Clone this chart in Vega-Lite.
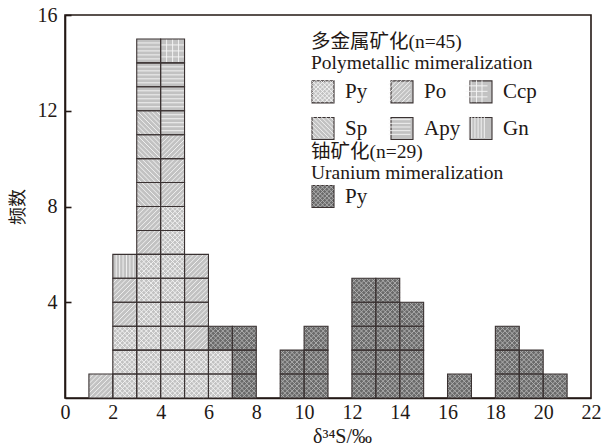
{
  "$schema": "https://vega.github.io/schema/vega-lite/v6.json",
  "width": 526,
  "height": 383,
  "autosize": "none",
  "padding": {"left": 65, "top": 15, "right": 15, "bottom": 50},
  "background": "white",
  "config": {
    "view": {"stroke": "#231815", "strokeWidth": 1.6},
    "axis": {"grid": false, "zindex": 1, "domainColor": "#231815", "domainWidth": 1.6, "labelColor": "#231815", "titleColor": "#231815", "labelFont": "Liberation Serif", "labelFontSize": 20, "titleFontWeight": "normal"}
  },
  "data": {"values": [
    {"bin_start":1,"bin_end":2,"lo":0,"hi":1,"ore":"poly","mineral":"Po"},
    {"bin_start":2,"bin_end":3,"lo":0,"hi":1,"ore":"poly","mineral":"Py"},
    {"bin_start":2,"bin_end":3,"lo":1,"hi":2,"ore":"poly","mineral":"Py"},
    {"bin_start":2,"bin_end":3,"lo":2,"hi":3,"ore":"poly","mineral":"Py"},
    {"bin_start":2,"bin_end":3,"lo":3,"hi":4,"ore":"poly","mineral":"Po"},
    {"bin_start":2,"bin_end":3,"lo":4,"hi":5,"ore":"poly","mineral":"Po"},
    {"bin_start":2,"bin_end":3,"lo":5,"hi":6,"ore":"poly","mineral":"Gn"},
    {"bin_start":3,"bin_end":4,"lo":0,"hi":1,"ore":"poly","mineral":"Py"},
    {"bin_start":3,"bin_end":4,"lo":1,"hi":2,"ore":"poly","mineral":"Py"},
    {"bin_start":3,"bin_end":4,"lo":2,"hi":3,"ore":"poly","mineral":"Py"},
    {"bin_start":3,"bin_end":4,"lo":3,"hi":4,"ore":"poly","mineral":"Py"},
    {"bin_start":3,"bin_end":4,"lo":4,"hi":5,"ore":"poly","mineral":"Py"},
    {"bin_start":3,"bin_end":4,"lo":5,"hi":6,"ore":"poly","mineral":"Py"},
    {"bin_start":3,"bin_end":4,"lo":6,"hi":7,"ore":"poly","mineral":"Po"},
    {"bin_start":3,"bin_end":4,"lo":7,"hi":8,"ore":"poly","mineral":"Po"},
    {"bin_start":3,"bin_end":4,"lo":8,"hi":9,"ore":"poly","mineral":"Sp"},
    {"bin_start":3,"bin_end":4,"lo":9,"hi":10,"ore":"poly","mineral":"Sp"},
    {"bin_start":3,"bin_end":4,"lo":10,"hi":11,"ore":"poly","mineral":"Sp"},
    {"bin_start":3,"bin_end":4,"lo":11,"hi":12,"ore":"poly","mineral":"Sp"},
    {"bin_start":3,"bin_end":4,"lo":12,"hi":13,"ore":"poly","mineral":"Apy"},
    {"bin_start":3,"bin_end":4,"lo":13,"hi":14,"ore":"poly","mineral":"Apy"},
    {"bin_start":3,"bin_end":4,"lo":14,"hi":15,"ore":"poly","mineral":"Apy"},
    {"bin_start":4,"bin_end":5,"lo":0,"hi":1,"ore":"poly","mineral":"Py"},
    {"bin_start":4,"bin_end":5,"lo":1,"hi":2,"ore":"poly","mineral":"Py"},
    {"bin_start":4,"bin_end":5,"lo":2,"hi":3,"ore":"poly","mineral":"Py"},
    {"bin_start":4,"bin_end":5,"lo":3,"hi":4,"ore":"poly","mineral":"Py"},
    {"bin_start":4,"bin_end":5,"lo":4,"hi":5,"ore":"poly","mineral":"Py"},
    {"bin_start":4,"bin_end":5,"lo":5,"hi":6,"ore":"poly","mineral":"Py"},
    {"bin_start":4,"bin_end":5,"lo":6,"hi":7,"ore":"poly","mineral":"Py"},
    {"bin_start":4,"bin_end":5,"lo":7,"hi":8,"ore":"poly","mineral":"Py"},
    {"bin_start":4,"bin_end":5,"lo":8,"hi":9,"ore":"poly","mineral":"Po"},
    {"bin_start":4,"bin_end":5,"lo":9,"hi":10,"ore":"poly","mineral":"Po"},
    {"bin_start":4,"bin_end":5,"lo":10,"hi":11,"ore":"poly","mineral":"Po"},
    {"bin_start":4,"bin_end":5,"lo":11,"hi":12,"ore":"poly","mineral":"Apy"},
    {"bin_start":4,"bin_end":5,"lo":12,"hi":13,"ore":"poly","mineral":"Apy"},
    {"bin_start":4,"bin_end":5,"lo":13,"hi":14,"ore":"poly","mineral":"Apy"},
    {"bin_start":4,"bin_end":5,"lo":14,"hi":15,"ore":"poly","mineral":"Ccp"},
    {"bin_start":5,"bin_end":6,"lo":0,"hi":1,"ore":"poly","mineral":"Py"},
    {"bin_start":5,"bin_end":6,"lo":1,"hi":2,"ore":"poly","mineral":"Py"},
    {"bin_start":5,"bin_end":6,"lo":2,"hi":3,"ore":"poly","mineral":"Po"},
    {"bin_start":5,"bin_end":6,"lo":3,"hi":4,"ore":"poly","mineral":"Po"},
    {"bin_start":5,"bin_end":6,"lo":4,"hi":5,"ore":"poly","mineral":"Po"},
    {"bin_start":5,"bin_end":6,"lo":5,"hi":6,"ore":"poly","mineral":"Po"},
    {"bin_start":6,"bin_end":7,"lo":0,"hi":1,"ore":"poly","mineral":"Py"},
    {"bin_start":6,"bin_end":7,"lo":1,"hi":2,"ore":"poly","mineral":"Py"},
    {"bin_start":6,"bin_end":7,"lo":2,"hi":3,"ore":"uranium","mineral":"Py"},
    {"bin_start":7,"bin_end":8,"lo":0,"hi":1,"ore":"uranium","mineral":"Py"},
    {"bin_start":7,"bin_end":8,"lo":1,"hi":2,"ore":"uranium","mineral":"Py"},
    {"bin_start":7,"bin_end":8,"lo":2,"hi":3,"ore":"uranium","mineral":"Py"},
    {"bin_start":9,"bin_end":10,"lo":0,"hi":1,"ore":"uranium","mineral":"Py"},
    {"bin_start":9,"bin_end":10,"lo":1,"hi":2,"ore":"uranium","mineral":"Py"},
    {"bin_start":10,"bin_end":11,"lo":0,"hi":1,"ore":"uranium","mineral":"Py"},
    {"bin_start":10,"bin_end":11,"lo":1,"hi":2,"ore":"uranium","mineral":"Py"},
    {"bin_start":10,"bin_end":11,"lo":2,"hi":3,"ore":"uranium","mineral":"Py"},
    {"bin_start":12,"bin_end":13,"lo":0,"hi":1,"ore":"uranium","mineral":"Py"},
    {"bin_start":12,"bin_end":13,"lo":1,"hi":2,"ore":"uranium","mineral":"Py"},
    {"bin_start":12,"bin_end":13,"lo":2,"hi":3,"ore":"uranium","mineral":"Py"},
    {"bin_start":12,"bin_end":13,"lo":3,"hi":4,"ore":"uranium","mineral":"Py"},
    {"bin_start":12,"bin_end":13,"lo":4,"hi":5,"ore":"uranium","mineral":"Py"},
    {"bin_start":13,"bin_end":14,"lo":0,"hi":1,"ore":"uranium","mineral":"Py"},
    {"bin_start":13,"bin_end":14,"lo":1,"hi":2,"ore":"uranium","mineral":"Py"},
    {"bin_start":13,"bin_end":14,"lo":2,"hi":3,"ore":"uranium","mineral":"Py"},
    {"bin_start":13,"bin_end":14,"lo":3,"hi":4,"ore":"uranium","mineral":"Py"},
    {"bin_start":13,"bin_end":14,"lo":4,"hi":5,"ore":"uranium","mineral":"Py"},
    {"bin_start":14,"bin_end":15,"lo":0,"hi":1,"ore":"uranium","mineral":"Py"},
    {"bin_start":14,"bin_end":15,"lo":1,"hi":2,"ore":"uranium","mineral":"Py"},
    {"bin_start":14,"bin_end":15,"lo":2,"hi":3,"ore":"uranium","mineral":"Py"},
    {"bin_start":14,"bin_end":15,"lo":3,"hi":4,"ore":"uranium","mineral":"Py"},
    {"bin_start":16,"bin_end":17,"lo":0,"hi":1,"ore":"uranium","mineral":"Py"},
    {"bin_start":18,"bin_end":19,"lo":0,"hi":1,"ore":"uranium","mineral":"Py"},
    {"bin_start":18,"bin_end":19,"lo":1,"hi":2,"ore":"uranium","mineral":"Py"},
    {"bin_start":18,"bin_end":19,"lo":2,"hi":3,"ore":"uranium","mineral":"Py"},
    {"bin_start":19,"bin_end":20,"lo":0,"hi":1,"ore":"uranium","mineral":"Py"},
    {"bin_start":19,"bin_end":20,"lo":1,"hi":2,"ore":"uranium","mineral":"Py"},
    {"bin_start":20,"bin_end":21,"lo":0,"hi":1,"ore":"uranium","mineral":"Py"}
  ]},
  "encoding": {
    "x": {"field": "bin_start", "type": "quantitative", "scale": {"domain": [0, 22], "nice": false, "zero": false},
      "axis": {"values": [0,2,4,6,8,10,12,14,16,18,20,22], "ticks": false, "labelPadding": 4, "labelFlush": false, "title": "δ³⁴S/‰", "titleFont": "Liberation Serif", "titleFontSize": 20, "titlePadding": 4, "titleX": 277}},
    "y": {"field": "lo", "type": "quantitative", "scale": {"domain": [0, 16], "nice": false, "zero": false},
      "axis": {"values": [4,8,12,16], "tickSize": -6, "tickColor": "#231815", "tickWidth": 1.6, "labelPadding": 14, "labelFlush": false, "title": "频数", "titleFont": "Noto Sans CJK SC", "titleFontSize": 18, "titlePadding": 10}}
  },
  "layer": [
    {
      "transform": [{"filter": "datum.ore === 'poly'"}],
      "mark": {"type": "rect", "strokeWidth": 0},
      "encoding": {
        "x2": {"field": "bin_end"},
        "y2": {"field": "hi"},
        "fill": {"field": "mineral", "type": "nominal",
          "scale": {"domain": ["Py","Po","Ccp","Sp","Apy","Gn"], "range": ["#c2c2c2","#c2c2c2","#c2c2c2","#c2c2c2","#c2c2c2","#c2c2c2"]},
          "legend": {"title": ["多金属矿化(n=45)", "Polymetallic mimeralization"], "orient": "none", "legendX": 246, "legendY": 18, "direction": "horizontal", "columns": 3, "gridAlign": "all", "padding": 0, "symbolType": "square", "symbolSize": 484, "symbolStrokeColor": "#3a3232", "symbolStrokeWidth": 1.1, "labelFont": "Liberation Serif", "labelFontSize": 21, "labelColor": "#231815", "labelOffset": 10, "rowPadding": 9, "columnPadding": 6, "titleFont": "Liberation Serif, Noto Sans CJK SC", "titleFontSize": 19.5, "titleFontWeight": "normal", "titleColor": "#231815", "titleLineHeight": 21, "titlePadding": 6, "titleLimit": 400}}
      }
    },
    {
      "transform": [{"filter": "datum.ore === 'uranium'"}],
      "mark": {"type": "rect", "strokeWidth": 0},
      "encoding": {
        "x2": {"field": "bin_end"},
        "y2": {"field": "hi"},
        "fill": {"field": "mineral", "type": "nominal",
          "scale": {"domain": ["Py"], "range": ["#6a6a6a"]},
          "legend": {"title": ["铀矿化(n=29)", "Uranium mimeralization"], "orient": "none", "legendX": 246, "legendY": 128, "padding": 0, "symbolType": "square", "symbolSize": 484, "symbolStrokeColor": "#3a3232", "symbolStrokeWidth": 1.1, "labelFont": "Liberation Serif", "labelFontSize": 21, "labelColor": "#231815", "labelOffset": 10, "titleFont": "Liberation Serif, Noto Sans CJK SC", "titleFontSize": 19.5, "titleFontWeight": "normal", "titleColor": "#231815", "titleLineHeight": 21, "titlePadding": 1, "titleLimit": 400}}
      }
    },
    {
      "transform": [{"filter": "datum.ore === 'poly'"}],
      "mark": {"type": "point", "filled": false, "stroke": "#f6f6f6", "strokeWidth": 0.9, "opacity": 1, "size": 572, "xOffset": 11.95, "yOffset": 11.97},
      "encoding": {
        "y": {"field": "hi", "type": "quantitative"},
        "shape": {"field": "mineral", "type": "nominal",
          "scale": {"domain": ["Py","Po","Ccp","Sp","Apy","Gn"], "range": [
            "M-1,-0.6L-0.6,-1M-1,-0.2L-0.2,-1M-1,0.2L0.2,-1M-1,0.6L0.6,-1M-1,1L1,-1M-0.6,1L1,-0.6M-0.2,1L1,-0.2M0.2,1L1,0.2M0.6,1L1,0.6M1,-0.6L0.6,-1M1,-0.2L0.2,-1M1,0.2L-0.2,-1M1,0.6L-0.6,-1M1,1L-1,-1M0.6,1L-1,-0.6M0.2,1L-1,-0.2M-0.2,1L-1,0.2M-0.6,1L-1,0.6",
            "M-1,-0.6L-0.6,-1M-1,-0.2L-0.2,-1M-1,0.2L0.2,-1M-1,0.6L0.6,-1M-1,1L1,-1M-0.6,1L1,-0.6M-0.2,1L1,-0.2M0.2,1L1,0.2M0.6,1L1,0.6",
            "M-0.5,-1L-0.5,1M0,-1L0,1M0.5,-1L0.5,1M-1,-0.5L1,-0.5M-1,0L1,0M-1,0.5L1,0.5",
            "M1,-0.6L0.6,-1M1,-0.2L0.2,-1M1,0.2L-0.2,-1M1,0.6L-0.6,-1M1,1L-1,-1M0.6,1L-1,-0.6M0.2,1L-1,-0.2M-0.2,1L-1,0.2M-0.6,1L-1,0.6",
            "M-1,-0.667L1,-0.667M-1,-0.333L1,-0.333M-1,0L1,0M-1,0.333L1,0.333M-1,0.667L1,0.667",
            "M-0.714,-1L-0.714,1M-0.429,-1L-0.429,1M-0.143,-1L-0.143,1M0.143,-1L0.143,1M0.429,-1L0.429,1M0.714,-1L0.714,1"
          ]},
          "legend": {"title": ["多金属矿化(n=45)", "Polymetallic mimeralization"], "labelExpr": "''", "orient": "none", "legendX": 246, "legendY": 18, "direction": "horizontal", "columns": 3, "gridAlign": "all", "padding": 0, "symbolSize": 484, "symbolStrokeWidth": 0.9, "labelFont": "Liberation Serif", "labelFontSize": 21, "labelOffset": 10, "rowPadding": 9, "columnPadding": 42, "titleFont": "Liberation Serif, Noto Sans CJK SC", "titleFontSize": 19.5, "titleFontWeight": "normal", "titleColor": "rgba(0,0,0,0)", "titleLineHeight": 21, "titlePadding": 6, "titleLimit": 400}}
      }
    },
    {
      "transform": [{"filter": "datum.ore === 'uranium'"}],
      "mark": {"type": "point", "filled": false, "stroke": "#b4b4b4", "strokeWidth": 0.9, "opacity": 1, "size": 572, "xOffset": 11.95, "yOffset": 11.97},
      "encoding": {
        "y": {"field": "hi", "type": "quantitative"},
        "shape": {"field": "mineral", "type": "nominal",
          "scale": {"domain": ["Py"], "range": [
            "M-1,-0.6L-0.6,-1M-1,-0.2L-0.2,-1M-1,0.2L0.2,-1M-1,0.6L0.6,-1M-1,1L1,-1M-0.6,1L1,-0.6M-0.2,1L1,-0.2M0.2,1L1,0.2M0.6,1L1,0.6M1,-0.6L0.6,-1M1,-0.2L0.2,-1M1,0.2L-0.2,-1M1,0.6L-0.6,-1M1,1L-1,-1M0.6,1L-1,-0.6M0.2,1L-1,-0.2M-0.2,1L-1,0.2M-0.6,1L-1,0.6"
          ]},
          "legend": {"title": ["铀矿化(n=29)", "Uranium mimeralization"], "labelExpr": "''", "orient": "none", "legendX": 246, "legendY": 128, "padding": 0, "symbolSize": 484, "symbolStrokeWidth": 0.9, "labelFont": "Liberation Serif", "labelFontSize": 21, "labelOffset": 10, "titleFont": "Liberation Serif, Noto Sans CJK SC", "titleFontSize": 19.5, "titleFontWeight": "normal", "titleColor": "rgba(0,0,0,0)", "titleLineHeight": 21, "titlePadding": 1, "titleLimit": 400}}
      }
    },
    {
      "mark": {"type": "rect", "fill": "transparent", "stroke": "#3a3232", "strokeWidth": 1.1},
      "encoding": {
        "x2": {"field": "bin_end"},
        "y2": {"field": "hi"}
      }
    }
  ],
  "resolve": {"scale": {"fill": "independent", "shape": "independent"}, "legend": {"fill": "independent", "shape": "independent"}}
}
